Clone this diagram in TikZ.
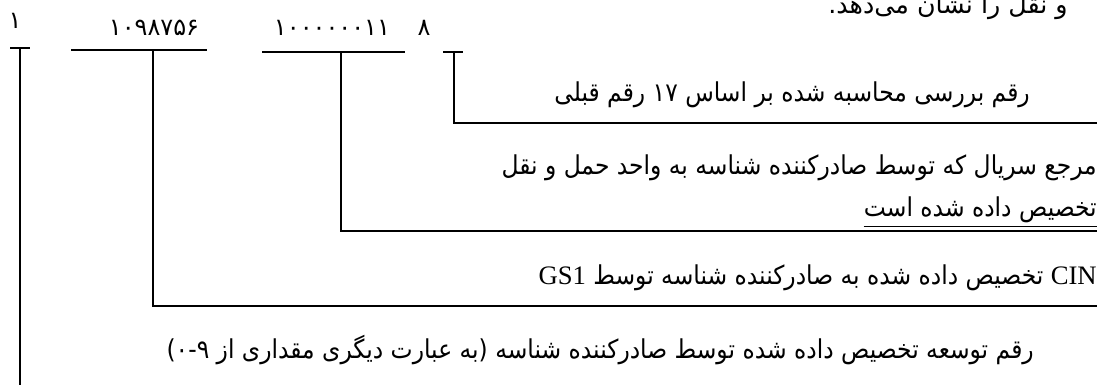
\documentclass[tikz,border=0pt]{standalone}
\usepackage{fontspec}
\TeXXeTstate=1
\newfontfamily\fa[Script=Arabic]{DejaVu Sans}
\newfontfamily\fanarrow[Script=Arabic,FakeStretch=0.9]{DejaVu Sans}
\newfontfamily\lat{Liberation Serif}
\newcommand\latin[1]{\beginL{\lat\fontsize{20}{22}\selectfont #1}\endL}
\tikzset{
  lbl/.style={anchor=base east, inner sep=0pt, font=\fanarrow\fontsize{19.5}{22}\selectfont},
  dig/.style={anchor=base, inner sep=0pt, font=\fa\fontsize{18}{20}\selectfont},
  bar/.style={line width=1.5pt},
  lead/.style={line width=1.4pt},
}
\begin{document}
\begin{tikzpicture}[x=0.75pt,y=-0.75pt]
\useasboundingbox (0,0) rectangle (1101,385);
\clip (0,0) rectangle (1101,385);

% closing words of the sentence above
\node[lbl, font=\fa\fontsize{19}{22}\selectfont] (cap) at (1068,14) {\beginR و نقل را نشان می‌دهد.\endR};

% digit groups of the code
\node[dig] (ext) at (15,29) {۱};
\node[dig] (gcp) at (154,36) {۱۰۹۸۷۵۶};
\node[dig] (ser) at (332,36) {۱۰۰۰۰۰۰۱۱};
\node[dig] (chk) at (424,36) {۸};

% bracket bars and their tie points
\coordinate (ext-l) at (10,48);  \coordinate (ext-r) at (30,48);  \coordinate (ext-m) at (20,48);
\coordinate (gcp-l) at (71,50);  \coordinate (gcp-r) at (207,50); \coordinate (gcp-m) at (153,50);
\coordinate (ser-l) at (262,52); \coordinate (ser-r) at (405,52); \coordinate (ser-m) at (341,52);
\coordinate (chk-l) at (443,52); \coordinate (chk-r) at (463,52); \coordinate (chk-m) at (454,52);

\draw[bar] (ext-l) -- (ext-r);
\draw[bar] (gcp-l) -- (gcp-r);
\draw[bar] (ser-l) -- (ser-r);
\draw[bar] (chk-l) -- (chk-r);

% leader ends at the right margin
\coordinate (chk-e) at (1097,123);
\coordinate (ser-e) at (1097,231);
\coordinate (gcp-e) at (1097,306);
\coordinate (ext-e) at (20,395);

\draw[lead] (chk-m) |- (chk-e);
\draw[lead] (ser-m) |- (ser-e);
\draw[lead] (gcp-m) |- (gcp-e);
\draw[lead] (ext-m) -- (ext-e);

% descriptions
\node[lbl] (tchk) at (1030,102) {\beginR رقم بررسی محاسبه شده بر اساس ۱۷ رقم قبلی\endR};
\node[lbl] (tser1) at (1097,175) {\beginR مرجع سریال که توسط صادرکننده شناسه به واحد حمل و نقل\endR};
\node[lbl] (tser2) at (1097,216) {\beginR تخصیص داده شده است\endR};
\coordinate (ul) at (0,226);
\draw[line width=0.7pt] (tser2.west |- ul) -- (tser2.east |- ul);
\node[lbl] (tgcp) at (1097,284) {\beginR \latin{CIN} تخصیص داده شده به صادرکننده شناسه توسط \latin{GS1}\endR};
\node[lbl] (text) at (1034,358) {\beginR رقم توسعه تخصیص داده شده توسط صادرکننده شناسه (به عبارت دیگری مقداری از ۰-۹)\endR};
\end{tikzpicture}
\end{document}
